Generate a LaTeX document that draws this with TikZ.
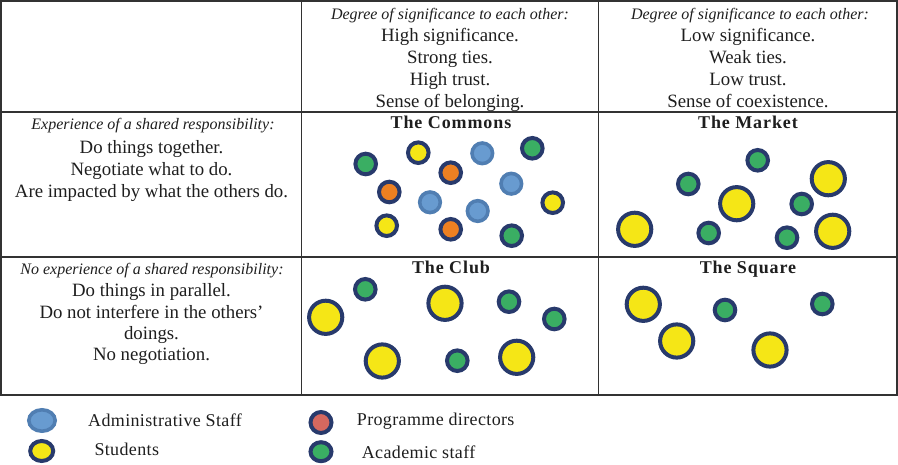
\documentclass[tikz,border=0pt]{standalone}
\usepackage{fontspec}
\setmainfont{Liberation Serif}
\newfontfamily\titlefont[LetterSpace=5]{Liberation Serif}
\newfontfamily\legfont[LetterSpace=2]{Liberation Serif}
\usetikzlibrary{shapes.geometric}
\definecolor{navy}{RGB}{40,58,108}
\definecolor{cgreen}{RGB}{58,174,99}
\definecolor{cyellow}{RGB}{245,230,22}
\definecolor{corange}{RGB}{237,128,34}
\definecolor{cbluefill}{RGB}{104,155,208}
\definecolor{cbluering}{RGB}{80,126,178}
\definecolor{cpink}{RGB}{214,104,95}
\definecolor{gridc}{RGB}{50,50,50}
\definecolor{txt}{RGB}{30,30,30}
\tikzset{
  grid line/.style={draw=gridc, line width=1.6pt},
  txtline/.style={anchor=base, inner sep=0pt, text=txt, font=\fontsize{18.8}{22}\selectfont},
  itline/.style={anchor=base, inner sep=0pt, text=txt, font=\fontsize{16}{20}\selectfont\itshape},
  titleline/.style={anchor=base, inner sep=0pt, text=txt, font=\titlefont\fontsize{18}{21}\selectfont\bfseries},
  legtext/.style={anchor=base west, inner sep=0pt, text=txt, font=\legfont\fontsize{18}{22}\selectfont},
  dot/.style={circle, inner sep=0pt, draw=navy, line width=4pt},
  smalldot/.style={dot, minimum size=20.6pt},
  bigdot/.style={dot, minimum size=33.2pt},
  gdot/.style={smalldot, fill=cgreen},
  ydot/.style={smalldot, fill=cyellow},
  odot/.style={smalldot, fill=corange},
  bdot/.style={smalldot, fill=cbluefill, draw=cbluering, line width=3.6pt},
  Ydot/.style={bigdot, fill=cyellow},
  legdot/.style={ellipse, inner sep=0pt, draw=navy, line width=4pt},
}
\begin{document}
\begin{tikzpicture}[x=1pt,y=-1pt]
\useasboundingbox (0,0) rectangle (898,465);
% table grid
\draw[grid line] (1,1) rectangle (897,395);
\draw[grid line] (301.5,1) -- (301.5,395);
\draw[grid line] (598.5,1) -- (598.5,395);
\draw[grid line] (1,112) -- (897,112);
\draw[grid line] (1,257) -- (897,257);

% header column 2
\node[itline] (h1) at (450,19.5) {Degree of significance to each other:};
\node[txtline] (h2) at (450,42) {High significance.};
\node[txtline] (h3) at (450,64) {Strong ties.};
\node[txtline] (h4) at (450,86) {High trust.};
\node[txtline] (h5) at (450,107.5) {Sense of belonging.};
% header column 3
\node[itline] (k1) at (750,19.5) {Degree of significance to each other:};
\node[txtline] (k2) at (748,42) {Low significance.};
\node[txtline] (k3) at (748,64) {Weak ties.};
\node[txtline] (k4) at (748,86) {Low trust.};
\node[txtline] (k5) at (748,107.5) {Sense of coexistence.};

% row 2 left
\node[itline] (r1) at (153,129.5) {Experience of a shared responsibility:};
\node[txtline] (r2) at (151.5,154) {Do things together.};
\node[txtline] (r3) at (151.5,176) {Negotiate what to do.};
\node[txtline] (r4) at (151.5,197.5) {Are impacted by what the others do.};
% row 3 left
\node[itline] (s1) at (152,274.5) {No experience of a shared responsibility:};
\node[txtline] (s2) at (151.5,296.5) {Do things in parallel.};
\node[txtline] (s3) at (151.5,318.5) {Do not interfere in the others’};
\node[txtline] (s4) at (151.5,339.5) {doings.};
\node[txtline] (s5) at (151.5,361) {No negotiation.};

% titles
\node[titleline] (tcom) at (451,129) {The Commons};
\node[titleline] (tmar) at (748,129) {The Market};
\node[titleline] (tclu) at (451,274) {The Club};
\node[titleline] (tsqu) at (748,274) {The Square};

% The Commons
\node[gdot] (cm1) at (365.7,164) {};
\node[ydot] (cm2) at (418.3,152.7) {};
\node[bdot] (cm3) at (482.3,153.3) {};
\node[gdot] (cm4) at (532.3,148.3) {};
\node[odot] (cm5) at (450.7,172.7) {};
\node[odot] (cm6) at (389.3,192) {};
\node[bdot] (cm7) at (511.3,183.7) {};
\node[bdot] (cm8) at (430,202.3) {};
\node[bdot] (cm9) at (477.7,211) {};
\node[ydot] (cm10) at (552.7,202.7) {};
\node[ydot] (cm11) at (386.7,225.7) {};
\node[odot] (cm12) at (450.7,229.3) {};
\node[gdot] (cm13) at (511.7,235.7) {};

% The Market
\node[gdot] (mk1) at (757.7,160.3) {};
\node[gdot] (mk2) at (688.3,184) {};
\node[Ydot] (mk3) at (828.3,178.7) {};
\node[Ydot] (mk4) at (736.7,203.7) {};
\node[gdot] (mk5) at (801.7,204) {};
\node[Ydot] (mk6) at (634.7,229.3) {};
\node[gdot] (mk7) at (708.7,233) {};
\node[gdot] (mk8) at (787,237.7) {};
\node[Ydot] (mk9) at (832.7,231.3) {};

% The Club
\node[gdot] (cl1) at (365.3,289.3) {};
\node[Ydot] (cl2) at (325.7,317.3) {};
\node[Ydot] (cl3) at (445,303.3) {};
\node[gdot] (cl4) at (509,301.7) {};
\node[gdot] (cl5) at (554.3,319) {};
\node[Ydot] (cl6) at (382.3,361) {};
\node[gdot] (cl7) at (457.3,360.7) {};
\node[Ydot] (cl8) at (516.7,357.3) {};

% The Square
\node[Ydot] (sq1) at (643.3,304.3) {};
\node[gdot] (sq2) at (725,310) {};
\node[gdot] (sq3) at (822.3,304) {};
\node[Ydot] (sq4) at (676.7,341) {};
\node[Ydot] (sq5) at (770,350) {};

% legend
\node[legdot, fill=cbluefill, draw=cbluering, line width=3.6pt, minimum width=26.4pt, minimum height=21.4pt] (lg1) at (42,420.5) {};
\node[legtext] (lt1) at (88,426.7) {Administrative Staff};
\node[legdot, fill=cyellow, minimum width=23pt, minimum height=20pt] (lg2) at (41.7,451) {};
\node[legtext] (lt2) at (94.3,455) {Students};
\node[legdot, fill=cpink, minimum width=21pt, minimum height=21pt] (lg3) at (321,422.5) {};
\node[legtext] (lt3) at (356.7,425) {Programme directors};
\node[legdot, fill=cgreen, minimum width=21pt, minimum height=19pt] (lg4) at (321,451.7) {};
\node[legtext] (lt4) at (361.7,458) {Academic staff};
\end{tikzpicture}
\end{document}
